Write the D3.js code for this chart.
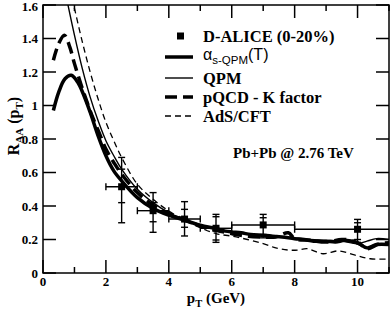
<!DOCTYPE html>
<html>
<head>
<meta charset="utf-8">
<script src="https://cdn.jsdelivr.net/npm/d3@7"></script>
<style>
  body { margin: 0; background: #fff; }
  svg text { font-family: "Liberation Serif", "DejaVu Serif", serif; font-weight: bold; }
</style>
</head>
<body>
<svg id="chart" width="391" height="309"></svg>
<script>
// curves: [pT, RAA]
const alphaQPM = [[0.33,0.97],[0.5,1.08],[0.7,1.16],[0.9,1.18],[1.1,1.14],[1.3,1.06],[1.5,0.96],[1.75,0.82],[2.0,0.70],[2.25,0.61],[2.5,0.55],[3.0,0.45],[3.5,0.385],[4.0,0.345],[4.5,0.315],[5.0,0.285],[5.5,0.265],[5.8,0.25],[6.0,0.245],[6.3,0.24],[6.6,0.23],[7.0,0.225],[7.3,0.22],[7.6,0.215],[8.0,0.205],[8.3,0.2],[8.6,0.19],[9.0,0.19],[9.3,0.185],[9.6,0.195],[10.0,0.18],[10.3,0.15],[10.6,0.17],[11.0,0.17]];
const qpm = [[0.75,1.64],[1.0,1.42],[1.25,1.22],[1.5,1.05],[1.75,0.91],[2.0,0.79],[2.25,0.70],[2.5,0.62],[3.0,0.50],[3.5,0.42],[4.0,0.36],[4.5,0.32],[5.0,0.285],[5.5,0.262],[6.0,0.245],[6.5,0.235],[7.0,0.222],[7.5,0.215],[8.0,0.21],[8.5,0.2],[9.0,0.195],[9.5,0.19],[10.0,0.175],[10.3,0.19],[10.6,0.205],[11.0,0.2]];
const pqcdK = [[0.33,1.27],[0.5,1.37],[0.68,1.42],[0.85,1.35],[1.0,1.25],[1.2,1.13],[1.4,1.02],[1.6,0.92],[1.8,0.83],[2.0,0.74],[2.25,0.66],[2.5,0.59],[3.0,0.48],[3.5,0.405],[4.0,0.355],[4.5,0.32],[5.0,0.28],[5.5,0.255],[6.0,0.235],[6.5,0.22],[7.0,0.215],[7.4,0.215],[7.8,0.24],[8.0,0.205],[8.5,0.195],[9.0,0.185],[9.5,0.2],[9.8,0.195],[10.1,0.17],[10.3,0.145],[10.7,0.175],[11.0,0.18]];
const adsCft = [[0.85,1.7],[1.0,1.58],[1.25,1.38],[1.5,1.2],[1.75,1.04],[2.0,0.9],[2.25,0.79],[2.5,0.69],[3.0,0.53],[3.5,0.44],[4.0,0.37],[4.5,0.315],[5.0,0.27],[5.5,0.235],[6.0,0.22],[6.5,0.2],[7.0,0.175],[7.4,0.15],[7.8,0.137],[8.1,0.137],[8.4,0.145],[8.9,0.115],[9.4,0.132],[9.9,0.108],[10.4,0.085],[11.0,0.083]];

// D-ALICE (0-20%)
const dPt     = [2.5, 3.5, 4.5, 5.5, 7, 10];
const dRaa    = [0.515, 0.372, 0.322, 0.267, 0.287, 0.261];
const dPtLo   = [2, 3, 4, 5, 6, 8];
const dPtHi   = [3, 4, 5, 6, 8, 12];
const dSysLo  = [0.30, 0.243, 0.221, 0.183, 0.21, 0.183];
const dSysHi  = [0.69, 0.48, 0.426, 0.35, 0.35, 0.32];
const dStatLo = [0.42, 0.306, 0.273, 0.197, 0.23, 0.20];
const dStatHi = [0.62, 0.42, 0.38, 0.336, 0.33, 0.30];

const xTicks = [0, 2, 4, 6, 8, 10];
const xMinor = [1, 3, 5, 7, 9, 11];
const yTicks = [0, 0.2, 0.4, 0.6, 0.8, 1, 1.2, 1.4, 1.6];

const margin = {left: 43, right: 2, top: 5, bottom: 36};
const width = 391, height = 309;
const svg = d3.select('#chart');

const x = d3.scaleLinear().domain([0, 11]).range([margin.left, width - margin.right]);
const y = d3.scaleLinear().domain([0, 1.6]).range([height - margin.bottom, margin.top]);

svg.append('clipPath').attr('id', 'clip')
  .append('rect')
  .attr('x', x(0)).attr('y', y(1.6))
  .attr('width', x(11) - x(0)).attr('height', y(0) - y(1.6));

const plot = svg.append('g').attr('clip-path', 'url(#clip)');

const line = d3.line().x(d => x(d[0])).y(d => y(d[1])).curve(d3.curveCatmullRom);

const series = [
  {name: 'alpha', data: alphaQPM, w: 3.5, dash: null},
  {name: 'QPM', data: qpm, w: 1.4, dash: null},
  {name: 'pQCD - K factor', data: pqcdK, w: 3.5, dash: '12,6'},
  {name: 'AdS/CFT', data: adsCft, w: 1.3, dash: '6,4'}
];

series.forEach(s => {
  plot.append('path')
    .attr('d', line(s.data))
    .attr('fill', 'none')
    .attr('stroke', '#000')
    .attr('stroke-width', s.w)
    .attr('stroke-dasharray', s.dash);
});

// error bars
const cap = 3.5;
const eb = plot.append('g').attr('stroke', '#000').attr('stroke-width', 1.4);
dPt.forEach((p, i) => {
  eb.append('line').attr('x1', x(dPtLo[i])).attr('x2', x(dPtHi[i])).attr('y1', y(dRaa[i])).attr('y2', y(dRaa[i]));
  [dPtLo[i], dPtHi[i]].forEach(v => {
    eb.append('line').attr('x1', x(v)).attr('x2', x(v)).attr('y1', y(dRaa[i]) - cap).attr('y2', y(dRaa[i]) + cap);
  });
  eb.append('line').attr('x1', x(p)).attr('x2', x(p)).attr('y1', y(dSysLo[i])).attr('y2', y(dSysHi[i]));
  [dSysLo[i], dSysHi[i], dStatLo[i], dStatHi[i]].forEach(v => {
    eb.append('line').attr('x1', x(p) - cap).attr('x2', x(p) + cap).attr('y1', y(v)).attr('y2', y(v));
  });
});
plot.selectAll('.pt').data(dPt).enter().append('rect')
  .attr('x', (d) => x(d) - 3.5).attr('y', (d, i) => y(dRaa[i]) - 3.5)
  .attr('width', 7).attr('height', 7).attr('fill', '#000');

// frame and ticks
const axes = svg.append('g').attr('stroke', '#000').attr('stroke-width', 1.5);
axes.append('rect')
  .attr('x', x(0)).attr('y', y(1.6))
  .attr('width', x(11) - x(0)).attr('height', y(0) - y(1.6))
  .attr('fill', 'none');
xTicks.forEach(t => {
  axes.append('line').attr('x1', x(t)).attr('x2', x(t)).attr('y1', y(0)).attr('y2', y(0) - 13);
  axes.append('line').attr('x1', x(t)).attr('x2', x(t)).attr('y1', y(1.6)).attr('y2', y(1.6) + 13);
});
xMinor.forEach(t => {
  axes.append('line').attr('x1', x(t)).attr('x2', x(t)).attr('y1', y(0)).attr('y2', y(0) - 6);
  axes.append('line').attr('x1', x(t)).attr('x2', x(t)).attr('y1', y(1.6)).attr('y2', y(1.6) + 6);
});
yTicks.forEach(t => {
  axes.append('line').attr('x1', x(0)).attr('x2', x(0) + 13).attr('y1', y(t)).attr('y2', y(t));
  axes.append('line').attr('x1', x(11)).attr('x2', x(11) - 13).attr('y1', y(t)).attr('y2', y(t));
});

svg.selectAll('.xl').data(xTicks).enter().append('text')
  .attr('x', d => x(d)).attr('y', y(0) + 13)
  .attr('text-anchor', 'middle').attr('font-size', 13)
  .text(d => d);
svg.selectAll('.yl').data(yTicks).enter().append('text')
  .attr('x', x(0) - 5).attr('y', d => Math.max(y(d) + 4.5, 11))
  .attr('text-anchor', 'end').attr('font-size', 13)
  .text(d => d);

// axis titles
const xt = svg.append('text').attr('x', 216).attr('y', 303).attr('text-anchor', 'middle').attr('font-size', 15);
xt.append('tspan').text('p');
xt.append('tspan').attr('font-size', 10.5).attr('dy', 4).text('T');
xt.append('tspan').attr('dy', -4).text(' (GeV)');

const yt = svg.append('text').attr('transform', 'translate(19,126) rotate(-90)').attr('text-anchor', 'middle').attr('font-size', 16);
yt.append('tspan').text('R');
yt.append('tspan').attr('font-size', 11).attr('dy', 4).text('AA');
yt.append('tspan').attr('dy', -4).text(' (p');
yt.append('tspan').attr('font-size', 11).attr('dy', 4).text('T');
yt.append('tspan').attr('dy', -4).text(')');

// legend
const legRows = [36, 57, 78, 97, 116];
const lg = svg.append('g');
lg.append('rect').attr('x', 177).attr('y', legRows[0] - 3.5).attr('width', 7).attr('height', 7).attr('fill', '#000');
lg.append('text').attr('x', 203).attr('y', legRows[0] + 5.5).attr('font-size', 16.5).text('D-ALICE (0-20%)');
series.forEach((s, i) => {
  const yy = legRows[i + 1];
  lg.append('line').attr('x1', 165).attr('x2', 193).attr('y1', yy).attr('y2', yy)
    .attr('stroke', '#000').attr('stroke-width', s.w).attr('stroke-dasharray', s.dash);
  if (i === 0) {
    const t = lg.append('text').attr('x', 203).attr('y', yy + 3)
      .style('font-family', '"Liberation Sans", Arial, sans-serif').style('font-weight', 'normal').attr('font-size', 16);
    t.append('tspan').text('α');
    t.append('tspan').attr('font-size', 11.5).attr('dy', 4).text('s-QPM');
    t.append('tspan').attr('dy', -4).text('(T)');
  } else {
    lg.append('text').attr('x', 203).attr('y', yy + 5.5).attr('font-size', 16.5).text(s.name);
  }
});

svg.append('text').attr('x', 233).attr('y', 158).attr('font-size', 15).text('Pb+Pb @ 2.76 TeV');
</script>
</body>
</html>
